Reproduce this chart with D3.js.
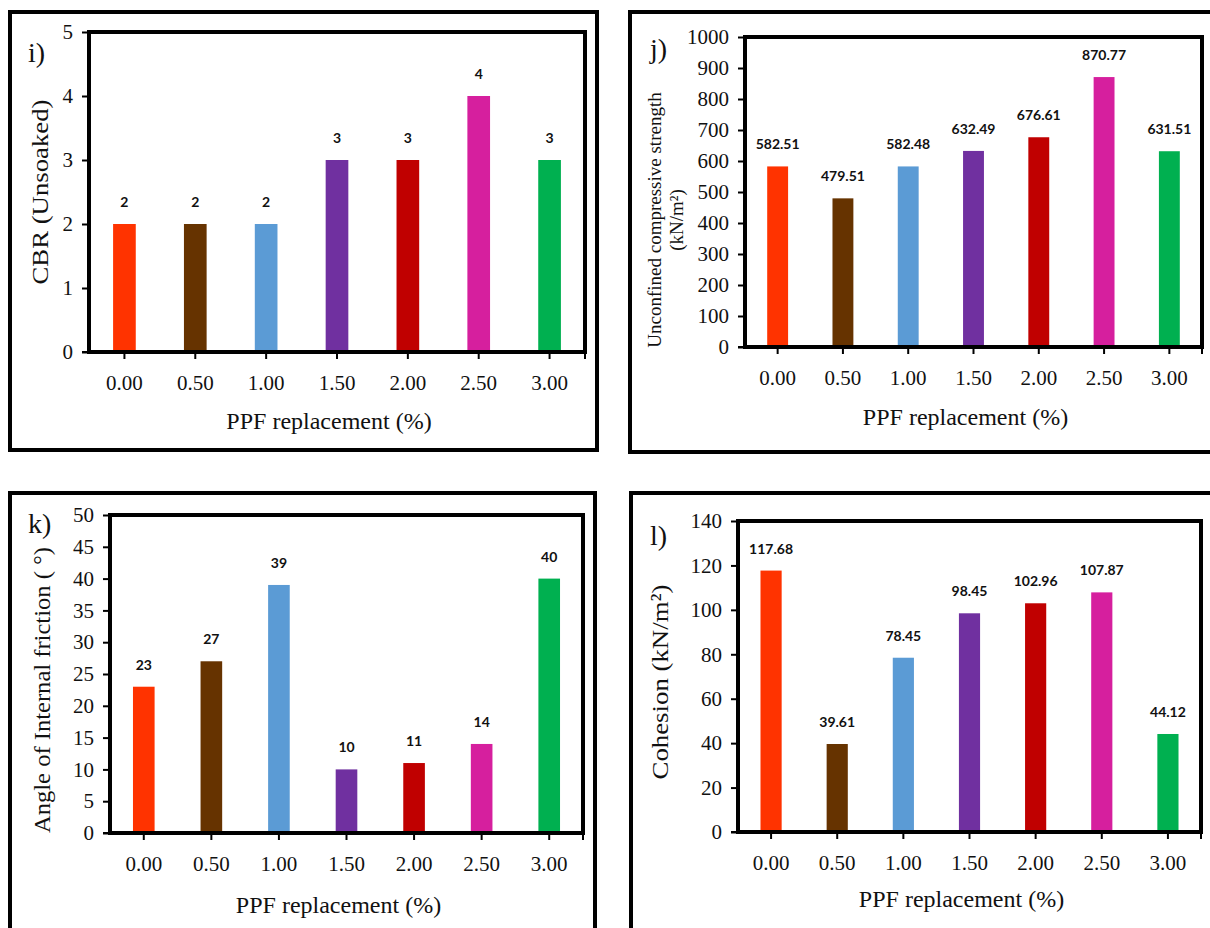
<!DOCTYPE html>
<html><head><meta charset="utf-8">
<script src="https://cdn.jsdelivr.net/npm/d3@7"></script>
<style>body{margin:0;background:#fff}svg{display:block}</style>
</head><body>
<svg id="c" width="1210" height="928"></svg>
<script>
const categories = ["0.00","0.50","1.00","1.50","2.00","2.50","3.00"];
const barColors = ["#FF3300","#663300","#5B9BD5","#7030A0","#C00000","#D61F9E","#00B050"];
const cbrValues = [2,2,2,3,3,4,3];
const ucsValues = [582.51,479.51,582.48,632.49,676.61,870.77,631.51];
const frictionValues = [23,27,39,10,11,14,40];
const cohesionValues = [117.68,39.61,78.45,98.45,102.96,107.87,44.12];
const cbrTicks = [0,1,2,3,4,5];
const ucsTicks = [0,100,200,300,400,500,600,700,800,900,1000];
const frictionTicks = [0,5,10,15,20,25,30,35,40,45,50];
const cohesionTicks = [0,20,40,60,80,100,120,140];
const xTitle = "PPF replacement (%)";

const svg = d3.select("#c");

const panels = [
  {letter:"i)", values:cbrValues, ticks:cbrTicks, fmt:d3.format("d"),
   frame:[10,12,597,450], plot:[89,32,585,352], letterPos:[28,62],
   yTitle:["CBR (Unsoaked)"], yTitleX:[48], yTitleLen:185, yTitleSize:24, yTitleY:192,
   xLabelY:390, xTitleY:429},
  {letter:"j)", values:ucsValues, ticks:ucsTicks, fmt:d3.format(".2f"),
   frame:[630,12,1216,452], plot:[745,37,1202,347], letterPos:[650,58],
   yTitle:["Unconfined compressive strength","(kN/m\u00B2)"], yTitleX:[661,683], yTitleLen:null, yTitleSize:19, yTitleY:220,
   xLabelY:385, xTitleY:425},
  {letter:"k)", values:frictionValues, ticks:frictionTicks, fmt:d3.format("d"),
   frame:[10,493,595,940], plot:[110,515,583,833], letterPos:[28,533],
   yTitle:["Angle of Internal friction ( \u00B0)"], yTitleX:[50], yTitleLen:286, yTitleSize:23, yTitleY:690,
   xLabelY:871, xTitleY:913},
  {letter:"l)", values:cohesionValues, ticks:cohesionTicks, fmt:d3.format(".2f"),
   frame:[631,493,1216,940], plot:[738,521,1201,832], letterPos:[650,545],
   yTitle:["Cohesion (kN/m\u00B2)"], yTitleX:[668], yTitleLen:195, yTitleSize:24, yTitleY:682,
   xLabelY:870, xTitleY:907}
];

panels.forEach(p => {
  const [fx0,fy0,fx1,fy1] = p.frame;
  const [px0,py0,px1,py1] = p.plot;
  const g = svg.append("g");
  g.append("rect").attr("x",fx0).attr("y",fy0).attr("width",fx1-fx0).attr("height",fy1-fy0)
    .attr("fill","none").attr("stroke","#000").attr("stroke-width",4);
  g.append("text").attr("x",p.letterPos[0]).attr("y",p.letterPos[1])
    .attr("font-family","Liberation Serif").attr("font-size",28).attr("fill","#111").text(p.letter);

  const x = d3.scaleBand().domain(categories).range([px0,px1]).paddingInner(0.68).paddingOuter(0.34);
  const y = d3.scaleLinear().domain([0, d3.max(p.ticks)]).range([py1,py0]);

  g.selectAll("rect.bar").data(p.values).join("rect").attr("class","bar")
    .attr("x",(d,i)=>x(categories[i]))
    .attr("width",x.bandwidth())
    .attr("y",d=>y(d))
    .attr("height",d=>y(0)-y(d))
    .attr("fill",(d,i)=>barColors[i]);
  g.selectAll("text.val").data(p.values).join("text").attr("class","val")
    .attr("x",(d,i)=>x(categories[i])+x.bandwidth()/2)
    .attr("y",d=>y(d)-17)
    .attr("text-anchor","middle")
    .attr("font-family","Lato").attr("font-weight","bold").attr("font-size",14).attr("fill","#111")
    .text(d=>p.fmt(d));

  const yAxis = d3.axisLeft(y).tickValues(p.ticks).tickSize(7).tickPadding(9).tickFormat(d3.format("d"));
  const ya = g.append("g").attr("transform",`translate(${px0},0)`).call(yAxis);
  ya.select(".domain").remove();
  ya.selectAll("line").attr("stroke","#000").attr("stroke-width",2);
  ya.selectAll("text").attr("font-family","Liberation Serif").attr("font-size",21).attr("fill","#111");

  const xAxis = d3.axisBottom(x).tickSize(7).tickPadding(0).tickSizeOuter(0);
  const xa = g.append("g").attr("transform",`translate(0,${py1})`).call(xAxis);
  xa.select(".domain").remove();
  xa.selectAll("line").attr("stroke","#000").attr("stroke-width",2);
  xa.selectAll("text").attr("font-family","Liberation Serif").attr("font-size",21).attr("fill","#111")
    .attr("y", p.xLabelY - py1).attr("dy",0);
  g.append("line").attr("x1",px1).attr("x2",px1).attr("y1",py1).attr("y2",py1+7)
    .attr("stroke","#000").attr("stroke-width",2);

  g.append("rect").attr("x",px0).attr("y",py0).attr("width",px1-px0).attr("height",py1-py0)
    .attr("fill","none").attr("stroke","#000").attr("stroke-width",4);
  g.append("line").attr("x1",px0-7).attr("x2",px0).attr("y1",py1).attr("y2",py1)
    .attr("stroke","#000").attr("stroke-width",2);

  g.append("text").attr("x",(px0+px1)/2 - 8).attr("y",p.xTitleY).attr("text-anchor","middle")
    .attr("font-family","Liberation Serif").attr("font-size",24).attr("fill","#111").text(xTitle);

  p.yTitle.forEach((t,k)=>{
    const tt = g.append("text").attr("transform",`translate(${p.yTitleX[k]},${p.yTitleY}) rotate(-90)`)
      .attr("text-anchor","middle")
      .attr("font-family","Liberation Serif").attr("font-size",p.yTitleSize).attr("fill","#111").text(t);
    if (p.yTitleLen && k===0) tt.attr("textLength",p.yTitleLen).attr("lengthAdjust","spacingAndGlyphs");
  });
});
</script>
</body></html>
